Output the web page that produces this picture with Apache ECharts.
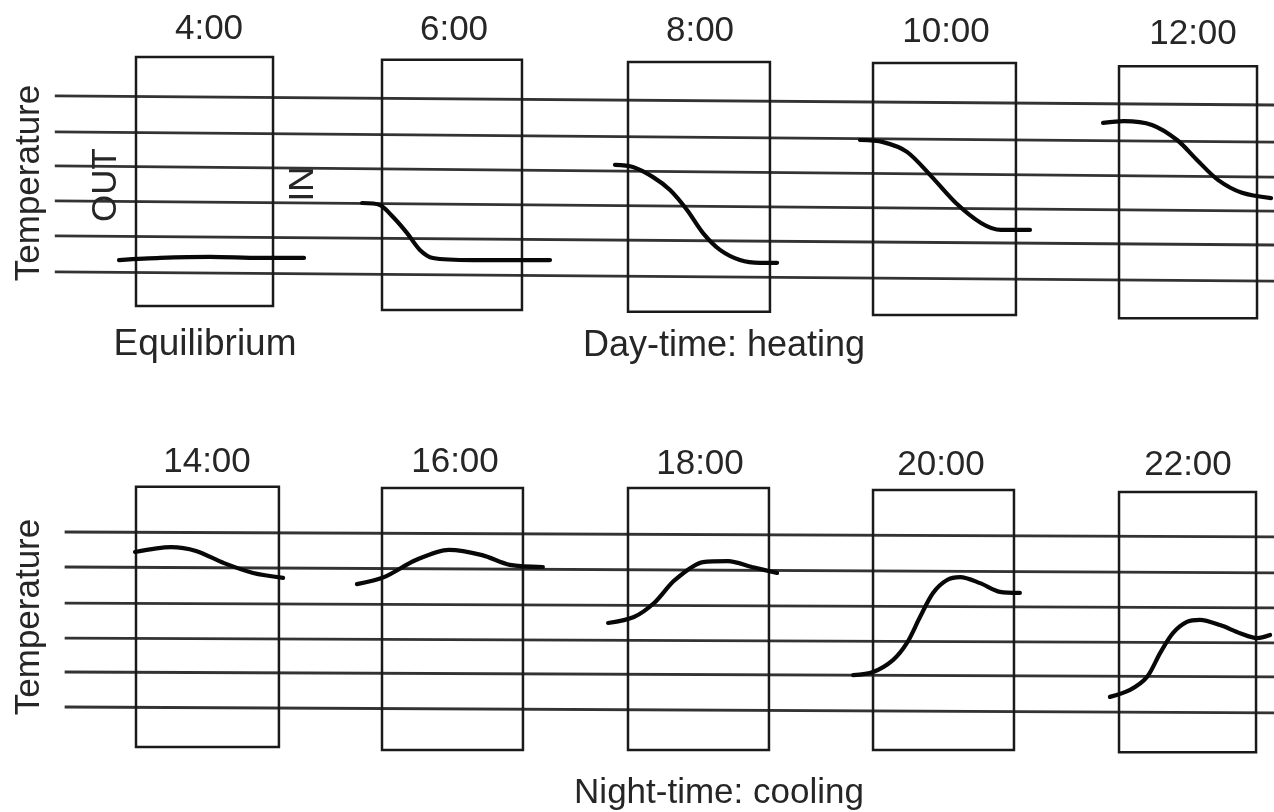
<!DOCTYPE html>
<html>
<head>
<meta charset="utf-8">
<script src="https://cdn.jsdelivr.net/npm/echarts@6/dist/echarts.min.js"></script>
<style>html,body{margin:0;padding:0;background:#fff}#c{width:1274px;height:812px}</style>
</head>
<body>
<div id="c"></div>
<script>
// ---- Text ----
const topTimes = ['4:00', '6:00', '8:00', '10:00', '12:00'];
const bottomTimes = ['14:00', '16:00', '18:00', '20:00', '22:00'];
const axisLabel = 'Temperature';
const outLabel = 'OUT';
const inLabel = 'IN';
const topCaptions = ['Equilibrium', 'Day-time: heating'];
const bottomCaption = 'Night-time: cooling';

// ---- Data: x in panel-slot units, y in temperature-level units ----
// Reference temperature lines (level at left end, level at right end)
const topLineStart = -0.33, topLineEnd = 4.63;
const topLineLeft = [6.06, 5.03, 4.06, 3.06, 2.06, 1.03];
const topLineRight = [5.80, 4.74, 3.74, 2.77, 1.80, 0.77];
const botLineStart = -0.29, botLineEnd = 4.63;
const botLineLeft = [6.00, 5.00, 3.97, 2.97, 2.00, 1.00];
const botLineRight = [5.86, 4.83, 3.83, 2.83, 1.86, 0.83];

// Room (box) extents
const topBoxLeft = [0.000, 1.000, 2.000, 2.996, 3.996];
const topBoxRight = [0.557, 1.569, 2.577, 3.577, 4.557];
const topBoxTop = [7.17, 7.09, 7.03, 7.00, 6.91];
const topBoxBottom = [0.06, -0.06, -0.11, -0.20, -0.29];
const botBoxLeft = [0.000, 1.000, 2.000, 2.996, 3.996];
const botBoxRight = [0.581, 1.573, 2.573, 3.569, 4.553];
const botBoxTop = [7.29, 7.26, 7.26, 7.20, 7.14];
const botBoxBottom = [-0.14, -0.23, -0.23, -0.23, -0.29];

// Temperature profiles (OUT -> IN)
const curve0400 = [[-0.069, 1.37], [0.098, 1.43], [0.301, 1.46], [0.504, 1.43], [0.683, 1.43]];
const curve0600 = [[0.919, 3.00], [0.992, 2.94], [1.045, 2.60], [1.102, 2.14], [1.154, 1.66], [1.207, 1.43], [1.370, 1.37], [1.683, 1.37]];
const curve0800 = [[1.947, 4.09], [2.020, 4.03], [2.102, 3.74], [2.171, 3.37], [2.240, 2.80], [2.305, 2.14], [2.374, 1.66], [2.455, 1.37], [2.537, 1.29], [2.606, 1.29]];
const curve1000 = [[2.943, 4.80], [3.037, 4.74], [3.134, 4.46], [3.236, 3.74], [3.333, 3.00], [3.435, 2.43], [3.516, 2.23], [3.634, 2.23]];
const curve1200 = [[3.931, 5.29], [4.016, 5.34], [4.130, 5.23], [4.232, 4.80], [4.313, 4.23], [4.398, 3.66], [4.496, 3.29], [4.614, 3.14]];
const curve1400 = [[-0.004, 5.43], [0.142, 5.57], [0.244, 5.46], [0.358, 5.11], [0.476, 4.83], [0.598, 4.69]];
const curve1600 = [[0.898, 4.51], [1.008, 4.71], [1.138, 5.20], [1.272, 5.49], [1.407, 5.34], [1.520, 5.06], [1.654, 5.00]];
const curve1800 = [[1.919, 3.40], [2.024, 3.57], [2.106, 3.97], [2.191, 4.63], [2.305, 5.14], [2.407, 5.17], [2.504, 5.00], [2.606, 4.83]];
const curve2000 = [[2.915, 1.91], [2.996, 2.00], [3.077, 2.34], [3.134, 2.83], [3.187, 3.57], [3.240, 4.26], [3.297, 4.63], [3.350, 4.71], [3.431, 4.54], [3.512, 4.29], [3.593, 4.26]];
const curve2200 = [[3.959, 1.29], [4.041, 1.49], [4.110, 1.86], [4.163, 2.54], [4.215, 3.11], [4.272, 3.43], [4.325, 3.49], [4.407, 3.34], [4.488, 3.11], [4.557, 2.97], [4.610, 3.06]];
const topCurves = [curve0400, curve0600, curve0800, curve1000, curve1200];
const botCurves = [curve1400, curve1600, curve1800, curve2000, curve2200];

// ---- Build chart ----
const chart = echarts.init(document.getElementById('c'), null, {renderer: 'canvas'});
const LINE_COLOR = '#333333', BOX_COLOR = '#1a1a1a', CURVE_COLOR = '#080808', TEXT_COLOR = '#262626';
const FONT = '"Liberation Sans", Arial, Helvetica, sans-serif';

function rowSeries(idx, lStart, lEnd, lLeft, lRight, bL, bR, bT, bB, curves) {
  const s = [];
  lLeft.forEach((v, i) => s.push({
    type: 'line', xAxisIndex: idx, yAxisIndex: idx, silent: true, symbol: 'none', z: 1,
    lineStyle: {color: LINE_COLOR, width: 2.8},
    data: [[lStart, v], [lEnd, lRight[i]]]
  }));
  bL.forEach((v, i) => {
    const mid = (v + bR[i]) / 2;
    s.push({
      type: 'line', xAxisIndex: idx, yAxisIndex: idx, silent: true, symbol: 'none', z: 2,
      lineStyle: {color: BOX_COLOR, width: 2.5, join: 'miter'},
      data: [[mid, bB[i]], [v, bB[i]], [v, bT[i]], [bR[i], bT[i]], [bR[i], bB[i]], [mid, bB[i]]]
    });
  });
  curves.forEach(c => s.push({
    type: 'line', xAxisIndex: idx, yAxisIndex: idx, silent: true, symbol: 'none', z: 3,
    smooth: 0.3,
    lineStyle: {color: CURVE_COLOR, width: 4.2, cap: 'round'},
    data: c
  }));
  return s;
}

const series = [].concat(
  rowSeries(0, topLineStart, topLineEnd, topLineLeft, topLineRight, topBoxLeft, topBoxRight, topBoxTop, topBoxBottom, topCurves),
  rowSeries(1, botLineStart, botLineEnd, botLineLeft, botLineRight, botBoxLeft, botBoxRight, botBoxTop, botBoxBottom, botCurves)
);

function txt(text, x, y, size, rot) {
  return {
    type: 'text', x: x, y: y, rotation: rot || 0, silent: true, z: 10,
    style: {text: text, font: size + 'px ' + FONT, fill: TEXT_COLOR,
            textAlign: 'center', textVerticalAlign: 'middle', align: 'center', verticalAlign: 'middle'}
  };
}
const topTitleX = [209, 454, 700, 946, 1193];
const topTitleY = [29, 30, 31, 32, 34];
const botTitleX = [207, 455, 700, 941, 1188];
const botTitleY = [462, 462, 464, 465, 465];
const graphic = [];
topTimes.forEach((t, i) => graphic.push(txt(t, topTitleX[i], topTitleY[i], 35)));
bottomTimes.forEach((t, i) => graphic.push(txt(t, botTitleX[i], botTitleY[i], 35)));
graphic.push(txt(axisLabel, 29, 183, 35, Math.PI / 2));
graphic.push(txt(axisLabel, 29, 617, 35, Math.PI / 2));
graphic.push(txt(outLabel, 106, 185, 35, Math.PI / 2));
graphic.push(txt(inLabel, 303, 184, 35, Math.PI / 2));
graphic.push(txt(topCaptions[0], 205, 345, 37));
graphic.push(txt(topCaptions[1], 724, 346, 36));
graphic.push(txt(bottomCaption, 719, 793, 35));

const xMin = -136 / 246, xMax = (1274 - 136) / 246;
chart.setOption({
  animation: false,
  backgroundColor: '#ffffff',
  grid: [
    {left: 0, right: 0, top: 0, height: 406},
    {left: 0, right: 0, top: 406, height: 406}
  ],
  xAxis: [
    {type: 'value', gridIndex: 0, min: xMin, max: xMax, show: false},
    {type: 'value', gridIndex: 1, min: xMin, max: xMax, show: false}
  ],
  yAxis: [
    {type: 'value', gridIndex: 0, min: -2.8, max: 8.8, show: false},
    {type: 'value', gridIndex: 1, min: -2.0, max: 9.6, show: false}
  ],
  graphic: graphic,
  series: series
});
</script>
</body>
</html>
